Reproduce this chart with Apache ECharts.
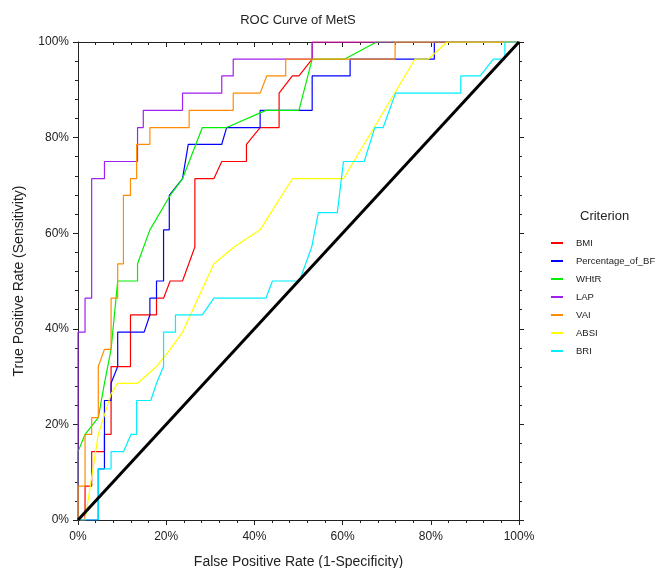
<!DOCTYPE html>
<html>
<head>
<meta charset="utf-8">
<script src="https://cdn.jsdelivr.net/npm/echarts@6/dist/echarts.min.js"></script>
<style>
html,body{margin:0;padding:0;background:#fff;}
#chart{width:656px;height:568px;}
</style>
</head>
<body>
<div id="chart"></div>
<script>
var seriesNames = ['BMI', 'Percentage_of_BF', 'WHtR', 'LAP', 'VAI', 'ABSI', 'BRI'];
var seriesColors = ['#FF0000', '#0000FF', '#00EE00', '#A020F0', '#FF8C00', '#FFFF00', '#00EEFF'];
var xTicks = [0, 20, 40, 60, 80, 100];

var BMI = [[0,0],[1.6,0],[1.6,7.1],[3.1,7.1],[3.1,14.3],[6.0,14.3],[6.0,17.9],[7.5,17.9],[7.5,32.1],[11.9,32.1],[11.9,42.9],[17.8,42.9],[17.8,46.4],[19.4,46.4],[20.9,50],[23.7,50],[26.5,57.1],[26.5,71.4],[30.8,71.4],[32.6,75],[38.2,75],[38.2,78.6],[41.3,82.1],[45.6,82.1],[45.6,89.3],[48.6,92.9],[50.1,92.9],[53.1,96.4],[53.1,100],[100,100]];
var PBF = [[0,0],[4.6,0],[4.6,10.7],[6.0,10.7],[6.0,25],[7.5,25],[7.5,28.6],[9.0,32.1],[9.0,39.3],[15.0,39.3],[16.3,42.9],[16.3,46.4],[17.8,46.4],[17.8,50],[19.4,50],[19.4,60.7],[20.7,60.7],[20.7,67.9],[23.7,71.4],[25.0,78.6],[32.6,78.6],[33.7,82.1],[41.3,82.1],[41.3,85.7],[53.1,85.7],[53.1,92.9],[61.7,92.9],[61.7,96.4],[80.8,96.4],[80.8,100],[100,100]];
var WHtR = [[0,0],[0,14.3],[1.6,17.9],[4.6,21.4],[6.0,28.6],[7.5,35.7],[9.0,50],[13.5,50],[13.5,53.6],[16.3,60.7],[20.9,67.9],[23.7,71.4],[28.2,82.1],[33.7,82.1],[42.6,85.7],[50.1,85.7],[53.1,96.4],[60.4,96.4],[67.7,100],[100,100]];
var LAP = [[0,0],[0,39.3],[1.6,39.3],[1.6,46.4],[3.1,46.4],[3.1,71.4],[6.0,71.4],[6.0,75],[13.5,75],[13.5,82.1],[14.8,82.1],[14.8,85.7],[23.7,85.7],[23.7,89.3],[32.6,89.3],[32.6,92.9],[35.2,92.9],[35.2,96.4],[53.1,96.4],[53.1,100],[100,100]];
var VAI = [[0,0],[0,7.1],[1.6,7.1],[1.6,17.9],[3.1,17.9],[3.1,21.4],[4.6,21.4],[4.6,32.1],[6.0,35.7],[7.5,35.7],[7.5,46.4],[9.0,46.4],[9.0,53.6],[10.3,53.6],[10.3,67.9],[11.9,67.9],[11.9,71.4],[13.3,71.4],[13.3,78.6],[16.3,78.6],[16.3,82.1],[25.2,82.1],[25.2,85.7],[35.2,85.7],[35.2,89.3],[41.3,89.3],[42.8,92.9],[47.1,92.9],[47.1,96.4],[71.9,96.4],[71.9,100],[100,100]];
var ABSI = [[0,0],[1.6,0],[4.6,17.9],[7.5,26.4],[9.0,28.6],[13.5,28.6],[17.8,32.1],[20.9,35.7],[23.7,39.3],[30.8,53.6],[35.4,57.1],[41.3,60.7],[48.6,71.4],[60.2,71.4],[76.4,96.4],[79.4,96.4],[83.7,100],[100,100]];
var BRI = [[0,0],[4.6,0],[4.6,10.7],[7.5,10.7],[7.5,14.3],[10.3,14.3],[12.0,17.9],[13.3,17.9],[13.3,25],[16.5,25],[17.8,28.6],[19.4,32.1],[19.4,39.3],[22.1,39.3],[22.1,42.9],[28.2,42.9],[30.8,46.4],[42.6,46.4],[44.1,50],[50.2,50],[53.0,57.1],[54.5,64.3],[58.8,64.3],[60.2,75],[64.9,75],[67.3,82.1],[69.2,82.1],[72.0,89.3],[86.8,89.3],[86.8,92.9],[91.2,92.9],[94.2,96.4],[96.8,96.4],[96.8,100],[100,100]];
var refLine = [[0,0],[100,100]];

var seriesData = [BMI, PBF, WHtR, LAP, VAI, ABSI, BRI];
var FONT = '"Liberation Sans", Arial, sans-serif';

var chart = echarts.init(document.getElementById('chart'), null, {renderer: 'canvas'});

var series = seriesNames.map(function (n, i) {
  return {
    name: n, type: 'line', data: seriesData[i], symbol: 'none', showSymbol: false,
    lineStyle: {color: seriesColors[i], width: 1.2}, itemStyle: {color: seriesColors[i]},
    animation: false, z: 2 + i
  };
});
series.push({
  name: 'ref', type: 'line', data: refLine, symbol: 'none', showSymbol: false,
  lineStyle: {color: '#000', width: 3}, animation: false, z: 20
});

function xAx(pos, showLabel, inside) {
  return {
    type: 'value', position: pos, min: 0, max: 100, interval: 20,
    axisLine: {show: true, onZero: false, lineStyle: {color: '#222', width: 1}},
    axisTick: {show: true, inside: inside, length: 5, lineStyle: {color: '#222'}},
    minorTick: {show: true, splitNumber: 5, length: 3, lineStyle: {color: '#222'}},
    splitLine: {show: false},
    axisLabel: {show: showLabel, formatter: '{value}%', color: '#222', fontSize: 12, fontFamily: FONT, margin: 11}
  };
}

var option = {
  backgroundColor: '#fff',
  animation: false,
  title: {
    text: 'ROC Curve of MetS', left: 293, top: 9, textAlign: 'center',
    textStyle: {fontSize: 13, fontWeight: 'normal', color: '#222', fontFamily: FONT}
  },
  grid: {left: 78, right: 137, top: 42, bottom: 48, containLabel: false, outerBoundsMode: 'none'},
  legend: {
    data: seriesNames.map(function (n, i) {
      return {name: n, icon: 'rect', itemStyle: {color: seriesColors[i]}};
    }),
    orient: 'vertical', left: 551, top: 238, padding: 0,
    itemWidth: 12, itemHeight: 2, itemGap: 8,
    textStyle: {fontSize: 9.5, color: '#222', fontFamily: FONT, padding: [0, 0, 0, 8]}
  },
  graphic: [{
    type: 'text', left: 580, top: 210,
    style: {text: 'Criterion', fontSize: 13, fill: '#222', fontFamily: FONT}
  }],
  xAxis: [
    Object.assign(xAx('bottom', true, false), {
      name: 'False Positive Rate (1-Specificity)', nameLocation: 'middle', nameGap: 35,
      nameTextStyle: {fontSize: 14, color: '#222', fontFamily: FONT}
    }),
    xAx('top', false, true)
  ],
  yAxis: [
    Object.assign(xAx('left', true, false), {
      name: 'True Positive Rate (Sensitivity)', nameLocation: 'middle', nameGap: 52,
      nameTextStyle: {fontSize: 14, color: '#222', fontFamily: FONT}
    }),
    xAx('right', false, false)
  ],
  series: series
};
option.yAxis[0].axisLabel.margin = 9;
chart.setOption(option);
</script>
</body>
</html>
